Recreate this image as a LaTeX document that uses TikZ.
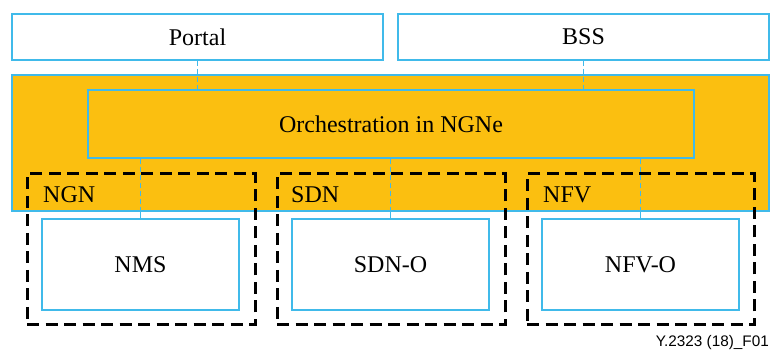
\documentclass[tikz,border=0pt]{standalone}
\usepackage{fontspec}
\setmainfont{Liberation Serif}
\newfontfamily\footfont{Liberation Sans}
\definecolor{linecyan}{RGB}{64,186,234}
\definecolor{orangefill}{RGB}{251,191,16}
\begin{document}
\begin{tikzpicture}[x=1pt,y=-1pt,
  cbox/.style={draw=linecyan,line width=1.6pt,inner sep=0pt,font=\fontsize{24}{28}\selectfont},
  wbox/.style={cbox,fill=white},
  grp/.style={draw=black,line width=3pt,dash pattern=on 12pt off 6.5pt,inner sep=0pt},
  lbl/.style={font=\fontsize{24}{28}\selectfont,inner sep=0pt},
  conn/.style={draw=linecyan,line width=1.8pt,dash pattern=on 5pt off 3pt},
  connsolid/.style={draw=linecyan,line width=1.8pt}]
\useasboundingbox (0,0) rectangle (772,352);
\fill[white] (0,0) rectangle (772,352);
% white lower boxes
\node[wbox,minimum width=197pt,minimum height=91pt] (nms) at (140.5,264.5) {NMS};
\node[wbox,minimum width=197pt,minimum height=91pt] (sdno) at (390.5,264.5) {SDN-O};
\node[wbox,minimum width=197pt,minimum height=91pt] (nfvo) at (640.5,264.5) {NFV-O};
% top boxes
\node[wbox,minimum width=371pt,minimum height=46pt] (portal) at (197.5,37) {Portal};
\node[wbox,minimum width=371pt,minimum height=46pt] (bss) at (583.5,37) {BSS};
% orange area
\node[draw=linecyan,line width=1.2pt,fill=orangefill,minimum width=757pt,minimum height=136pt,inner sep=0pt] (ngne) at (390.5,143) {};
\node[cbox,minimum width=606pt,minimum height=68pt] (orch) at (391,124) {Orchestration in NGNe};
% dashed groups
\node[grp,minimum width=228pt,minimum height=151pt] (gngn) at (141,249.5) {};
\node[grp,minimum width=228pt,minimum height=151pt] (gsdn) at (391,249.5) {};
\node[grp,minimum width=227pt,minimum height=151pt] (gnfv) at (640.5,249.5) {};
% labels
\node[lbl,anchor=base west] (lngn) at (43,203) {NGN};
\node[lbl,anchor=base west] (lsdn) at (291,203) {SDN};
\node[lbl,anchor=base west] (lnfv) at (543,203) {NFV};
% connectors
\draw[conn] (portal.south) -- (orch.north -| portal.south);
\draw[conn] (bss.south) -- (orch.north -| bss.south);
\draw[conn] (orch.south -| nms.north) -- (ngne.south -| nms.north);
\draw[connsolid] (ngne.south -| nms.north) -- (nms.north);
\draw[conn] (orch.south -| sdno.north) -- (ngne.south -| sdno.north);
\draw[connsolid] (ngne.south -| sdno.north) -- (sdno.north);
\draw[conn] (orch.south -| nfvo.north) -- (ngne.south -| nfvo.north);
\draw[connsolid] (ngne.south -| nfvo.north) -- (nfvo.north);
% footer
\node[anchor=base east,inner sep=0pt,font=\footfont\fontsize{15.3}{18}\selectfont] (foot) at (769,347) {Y.2323 (18)\_F01};
\end{tikzpicture}
\end{document}
